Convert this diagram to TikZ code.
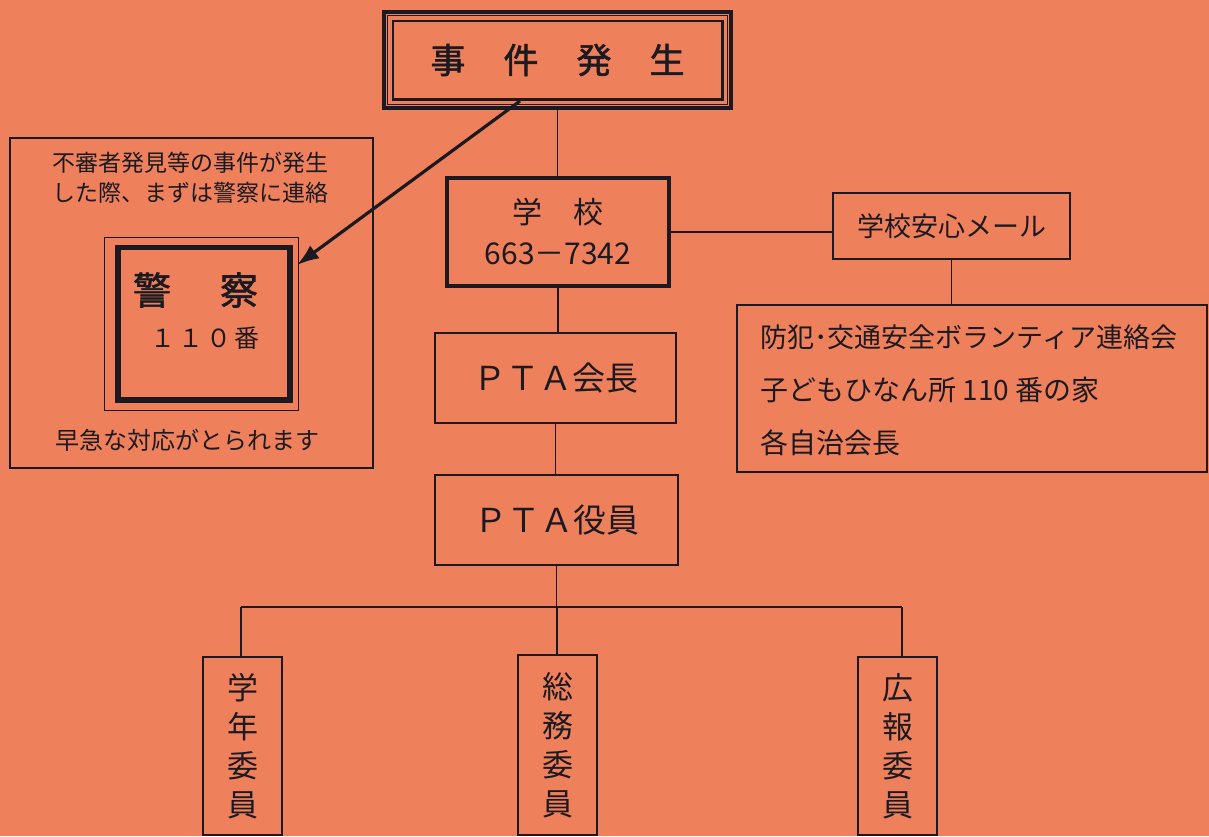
\documentclass[tikz,border=0pt]{standalone}
\usepackage{fontspec}
\setmainfont{Noto Sans CJK JP}
\newfontfamily\bcjk[FakeBold=1.6]{Noto Sans CJK JP}
\usetikzlibrary{arrows.meta,calc}
\definecolor{bg}{RGB}{238,129,92}
\definecolor{ink}{RGB}{28,26,32}
\tikzset{
  box/.style={draw=ink, line width=2pt, inner sep=0pt, text=ink, anchor=center},
  conn/.style={draw=ink, line width=1.8pt},
  txt/.style={inner sep=0pt, text=ink, anchor=center},
}
\begin{document}
\begin{tikzpicture}[x=1pt,y=-1pt]
\fill[bg] (0,0) rectangle (1209,836);
\useasboundingbox (0,0) rectangle (1209,836);

% top event box (triple border)
\node[box, line width=4.5pt, minimum width=347pt, minimum height=96pt,
      font=\bcjk\fontsize{35}{35}\selectfont] (event) at (557.5,60)
      {事\hspace{38pt}件\hspace{38pt}発\hspace{38pt}生};
\draw[ink, line width=1.2pt] ($(event.north west)+(6,6)$) rectangle ($(event.south east)+(-6,-6)$);
\draw[ink, line width=2.5pt] ($(event.north west)+(11,11)$) rectangle ($(event.south east)+(-11,-11)$);

% school
\node[box, line width=3.5pt, minimum width=222pt, minimum height=108pt,
      align=center, font=\fontsize{30}{41}\selectfont] (school) at (558,232)
      {学\hspace{31pt}校\\663－7342};

% mail
\node[box, minimum width=237pt, minimum height=66pt,
      font=\fontsize{27}{27}\selectfont] (mail) at (951.5,226) {学校安心メール};

% help box
\node[box, minimum width=470pt, minimum height=167pt] (help) at (972,388.5) {};
\node[txt, anchor=west, align=left, font=\fontsize{28}{53}\selectfont] (helptext) at (760,390)
  {{\fontsize{27}{27}\selectfont 防犯･交通安全ボランティア連絡会}\\子どもひなん所 110 番の家\\各自治会長};

% left note box
\node[box, line width=1.8pt, minimum width=363pt, minimum height=330pt] (note) at (191.5,303) {};
\node[txt, align=center, font=\fontsize{23}{30}\selectfont] (notetext) at (190,178)
  {不審者発見等の事件が発生\\した際、まずは警察に連絡};
\node[txt, font=\fontsize{24}{24}\selectfont] (fasttext) at (187,440) {早急な対応がとられます};

% police
\node[box, line width=5.5pt, minimum width=172pt, minimum height=152.5pt] (police) at (204,323.75) {};
\draw[ink, line width=1.2pt] ($(police.north west)+(-11,-7.5)$) rectangle ($(police.south east)+(6,8)$);
\node[txt, font=\bcjk\fontsize{38}{38}\selectfont] (policetitle) at (195.5,290) {警\hspace{49pt}察};
\node[txt, font=\fontsize{25}{25}\selectfont] (policenum) at (204.5,338) {１\hspace{3pt}１\hspace{3pt}０\hspace{3pt}番};

% arrow
\coordinate (arrowstart) at (520,101);
\coordinate (arrowtip) at (297,265);
\draw[ink, line width=3.2pt, -{Latex[length=22pt,width=16pt]}] (arrowstart) -- (arrowtip);

% PTA
\node[box, minimum width=241pt, minimum height=90pt,
      font=\fontsize{33}{33}\selectfont] (kaicho) at (555.5,378) {ＰＴＡ会長};
\node[box, minimum width=243pt, minimum height=90pt,
      font=\fontsize{33}{33}\selectfont] (yakuin) at (556.5,520) {ＰＴＡ役員};

% committees
\node[box, minimum width=79pt, minimum height=178pt, align=center,
      font=\fontsize{31}{39}\selectfont] (gakunen) at (242.5,746) {学\\年\\委\\員};
\node[box, minimum width=79pt, minimum height=180pt, align=center,
      font=\fontsize{31}{39}\selectfont] (somu) at (557.5,745) {総\\務\\委\\員};
\node[box, minimum width=79pt, minimum height=178pt, align=center,
      font=\fontsize{31}{39}\selectfont] (koho) at (897.5,746) {広\\報\\委\\員};

% connectors
\draw[conn] (event.south) -- (event.south |- school.north);
\draw[conn] (school.east) -- (school.east -| mail.west);
\draw[conn] (mail.south) -- (mail.south |- help.north);
\draw[conn] (school.south) -- (school.south |- kaicho.north);
\draw[conn] (kaicho.south) -- (kaicho.south |- yakuin.north);
\coordinate (bus) at (557,607);
\coordinate (busleft) at (241,607);
\coordinate (busright) at (902,607);
\draw[conn] (yakuin.south) -- (yakuin.south |- bus);
\draw[conn] (busleft) -- (busright);
\draw[conn] (busleft) -- (busleft |- gakunen.north);
\draw[conn] (bus) -- (bus |- somu.north);
\draw[conn] (busright) -- (busright |- koho.north);
\end{tikzpicture}
\end{document}
